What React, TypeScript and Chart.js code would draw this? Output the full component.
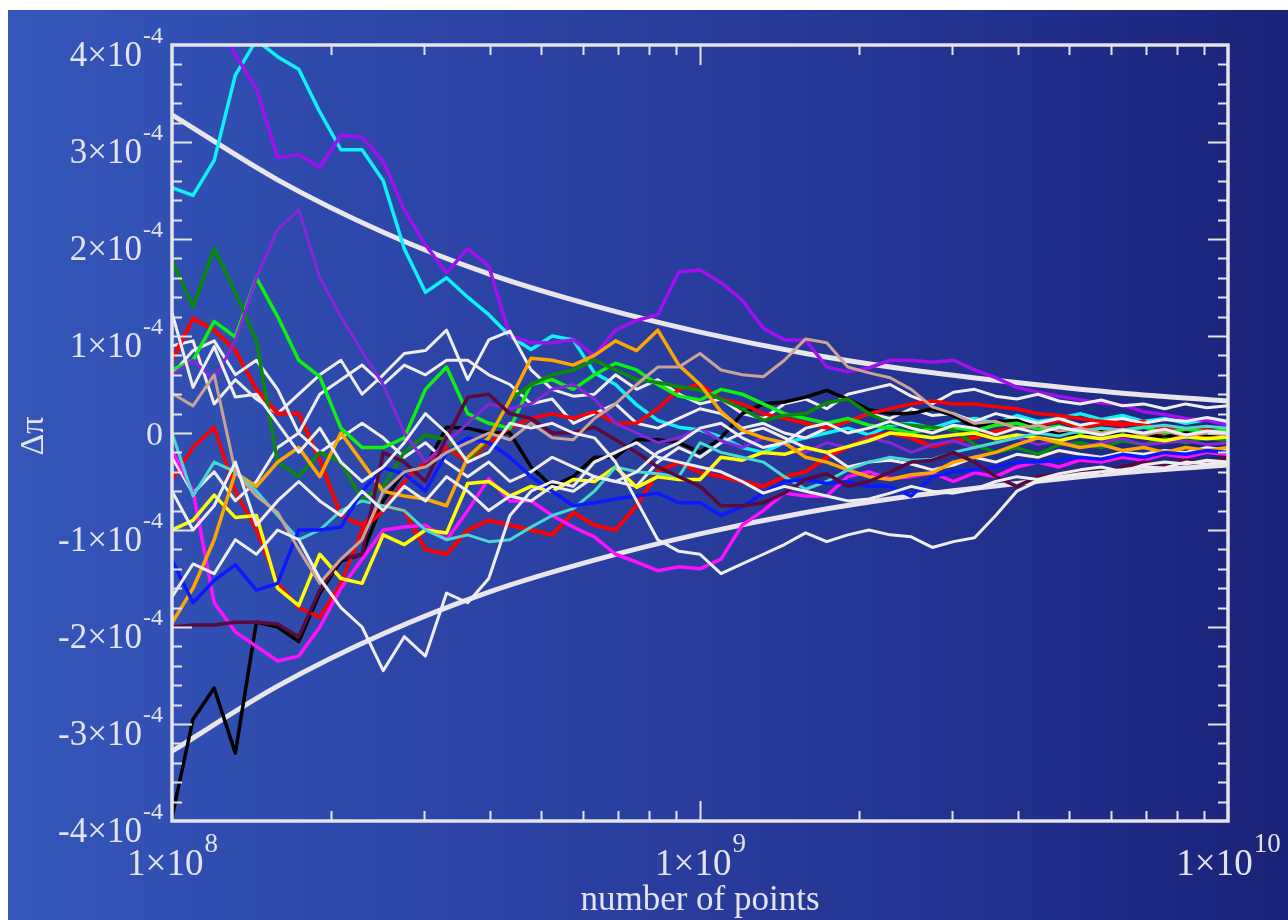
import React, { useEffect, useRef } from "react";
import { Chart, registerables } from "chart.js";
Chart.register(...registerables);

// number of points (x), sampled along the log axis
const N_POINTS = [
  1.0e8, 1.096e8, 1.202e8, 1.318e8, 1.445e8, 1.585e8, 1.738e8, 1.905e8, 2.089e8, 2.291e8,
  2.512e8, 2.754e8, 3.02e8, 3.311e8, 3.631e8, 3.981e8, 4.365e8, 4.786e8, 5.248e8, 5.754e8,
  6.31e8, 6.918e8, 7.586e8, 8.318e8, 9.12e8, 1.0e9, 1.096e9, 1.202e9, 1.318e9, 1.445e9,
  1.585e9, 1.738e9, 1.905e9, 2.089e9, 2.291e9, 2.512e9, 2.754e9, 3.02e9, 3.311e9, 3.631e9,
  3.981e9, 4.365e9, 4.786e9, 5.248e9, 5.754e9, 6.31e9, 6.918e9, 7.586e9, 8.318e9, 9.12e9,
  1.0e10,
];

// Δπ in units of 1e-4
const CYAN = [
  2.53, 2.45, 2.81, 3.69, 4.05, 3.88, 3.75, 3.31, 2.92, 2.92,
  2.6, 1.9, 1.45, 1.6, 1.4, 1.22, 1.0, 0.86, 1.0, 0.96,
  0.62, 0.5, 0.29, 0.13, 0.06, 0.03, -0.04, -0.15, -0.2, -0.1,
  -0.05, 0.0, 0.05, -0.02, 0.08, 0.1, 0.05, 0.12, 0.15, 0.1,
  0.18, 0.12, 0.15, 0.2, 0.14, 0.18, 0.12, 0.15, 0.1, 0.14,
  0.1,
];
const VIOLET = [
  4.6, 4.5, 4.3, 3.9, 3.55, 2.84, 2.87, 2.74, 3.07, 3.05,
  2.8, 2.3, 1.94, 1.65, 1.9, 1.72, 1.0, 0.93, 0.93, 0.96,
  0.8, 1.06, 1.16, 1.22, 1.66, 1.68, 1.55, 1.37, 1.08, 0.96,
  0.96, 0.68, 0.63, 0.67, 0.75, 0.75, 0.73, 0.75, 0.65, 0.57,
  0.47, 0.42, 0.38, 0.34, 0.31, 0.29, 0.22, 0.19, 0.15, 0.13,
  0.08,
];
const BLUEVIOLET = [
  0.6, 0.75, 0.55, 0.95, 1.6, 2.1, 2.3, 1.6, 1.2, 0.84,
  0.5, 0.0, -0.3, -0.1, 0.1, 0.3, 0.25, 0.3, 0.45, 0.5,
  0.35, 0.1, 0.0, -0.1, -0.05, 0.05, -0.08, -0.15, -0.05, -0.12,
  -0.2, -0.1, -0.15, -0.05, -0.1, -0.2, -0.12, -0.08, -0.15, -0.1,
  -0.05, -0.12, -0.08, -0.15, -0.1, -0.06, -0.12, -0.1, -0.08, -0.12,
  -0.1,
];
const DARKGREEN = [
  1.78, 1.3, 1.9, 1.45, 0.95, -0.3, -0.45, -0.2, -0.3, -0.69,
  -0.55, -0.2, -0.02, -0.07, -0.28, -0.07, 0.34, 0.5, 0.6, 0.65,
  0.75, 0.65, 0.55, 0.52, 0.48, 0.44, 0.35, 0.25, 0.13, 0.18,
  0.2, 0.31, 0.35, 0.2, 0.1, 0.08, 0.06, 0.03, -0.12, -0.2,
  -0.15, -0.22, -0.12, -0.1, -0.15, -0.08, -0.12, -0.06, -0.1, -0.05,
  -0.08,
];
const LIME = [
  0.65, 0.75, 1.15, 0.99, 1.6, 1.2, 0.75, 0.58, 0.05, -0.15,
  -0.15, -0.05, 0.45, 0.68, 0.2, 0.1, 0.05, 0.5, 0.55, 0.45,
  0.6, 0.72, 0.65, 0.5, 0.38, 0.34, 0.45, 0.4, 0.3, 0.2,
  0.15, 0.1, 0.15, 0.08, 0.05, 0.0, 0.05, 0.06, 0.02, 0.08,
  0.1, 0.04, 0.07, 0.0, 0.05, 0.02, 0.06, 0.0, 0.04, 0.01,
  0.03,
];
const RED_A = [
  0.75, 1.18, 1.06, 0.85, 0.45, 0.2, 0.2, -0.28, -0.85, -0.95,
  -0.75, -0.8, -1.2, -1.25, -1.0, -0.9, -0.95, -1.0, -1.05, -0.82,
  -0.95, -1.0, -0.75, -0.4, -0.3, -0.41, -0.45, -0.5, -0.55, -0.45,
  -0.4, -0.25, -0.15, -0.04, 0.0, -0.05, -0.14, -0.08, -0.05, 0.02,
  0.05, 0.08, 0.13, 0.05, 0.1, 0.08, 0.12, -0.05, 0.0, -0.04,
  -0.04,
];
const RED_B = [
  -0.48, -0.15, 0.06, -0.6, -1.0, -1.55, -1.8, -1.9, -1.55, -1.0,
  -0.8, -0.5, -0.3, -0.15, -0.3, -0.1, 0.05, 0.15, 0.2, 0.15,
  0.22, 0.1, 0.1, 0.25, 0.45, 0.5, 0.35, 0.3, 0.2, 0.15,
  0.1, 0.05, 0.12, 0.2, 0.25, 0.3, 0.33, 0.3, 0.3, 0.27,
  0.25, 0.2, 0.18, 0.15, 0.12, 0.1, 0.08, 0.05, 0.05, 0.03,
  0.0,
];
const BLACK = [
  -3.96, -2.95, -2.63, -3.3, -1.95, -2.0, -2.15, -1.65, -1.32, -1.25,
  -0.7, -0.4, -0.35, 0.06, 0.05, 0.0, 0.0, -0.35, -0.55, -0.45,
  -0.25, -0.25, -0.07, -0.07, -0.1, -0.2, -0.05, 0.2, 0.3, 0.32,
  0.37, 0.44, 0.35, 0.24, 0.2, 0.2, 0.25, 0.18, 0.06, 0.12,
  0.13, 0.05, 0.0, -0.03, 0.02, -0.02, 0.0, -0.05, 0.02, -0.02,
  0.0,
];
const MAGENTA = [
  -0.18, -0.6, -1.75, -2.05, -2.2, -2.35, -2.3, -2.0, -1.6, -1.3,
  -1.0, -0.97, -0.95, -1.1, -0.8, -0.47, -0.7, -0.7, -0.85, -0.97,
  -1.07, -1.25, -1.33, -1.42, -1.38, -1.4, -1.3, -0.95, -0.8, -0.62,
  -0.65, -0.65, -0.45, -0.4, -0.47, -0.45, -0.41, -0.5, -0.41, -0.45,
  -0.35, -0.3, -0.35, -0.28, -0.3, -0.25, -0.28, -0.22, -0.25, -0.2,
  -0.22,
];
const YELLOW = [
  -1.0, -0.9, -0.64, -0.87, -0.85, -1.6, -1.78, -1.25, -1.5, -1.55,
  -1.05, -1.15, -1.0, -1.03, -0.52, -0.5, -0.65, -0.55, -0.6, -0.48,
  -0.5, -0.35, -0.56, -0.45, -0.48, -0.48, -0.25, -0.28, -0.2, -0.22,
  -0.15, -0.2, -0.14, -0.08, 0.0, -0.02, -0.05, -0.02, 0.0, -0.06,
  -0.02, -0.05, -0.08, -0.03, -0.06, -0.02, -0.05, -0.08, -0.04, -0.06,
  -0.04,
];
const ORANGE = [
  -1.96, -1.6, -1.1, -0.41, -0.55, -0.3, -0.15, -0.45, 0.0, -0.3,
  -0.6, -0.65, -0.68, -0.75, -0.25, -0.05, 0.34, 0.77, 0.75, 0.7,
  0.8, 0.95, 0.85, 1.06, 0.7, 0.5, 0.22, 0.03, -0.05, -0.1,
  -0.25, -0.3, -0.38, -0.45, -0.48, -0.43, -0.41, -0.3, -0.25, -0.2,
  -0.12, -0.05, -0.1, -0.15, -0.12, -0.18, -0.15, -0.2, -0.15, -0.18,
  -0.15,
];
const BLUE = [
  -1.31, -1.75, -1.52, -1.36, -1.62, -1.55, -1.0, -1.0, -0.97, -0.6,
  -0.36, -0.42, -0.6, -0.2, -0.05, -0.1, -0.25, -0.45, -0.6, -0.75,
  -0.72, -0.68, -0.65, -0.62, -0.72, -0.72, -0.85, -0.76, -0.62, -0.5,
  -0.48, -0.52, -0.5, -0.55, -0.55, -0.65, -0.45, -0.4, -0.38, -0.35,
  -0.3, -0.3, -0.28, -0.25, -0.27, -0.22, -0.25, -0.2, -0.22, -0.18,
  -0.2,
];
const MAROON = [
  -2.0, -1.98, -1.98, -1.95, -1.95, -1.97, -2.1, -1.62, -1.3, -1.25,
  -0.2, -0.3, -0.5, -0.05, 0.37, 0.4, 0.2, 0.15, 0.0, 0.0,
  0.06, -0.07, -0.2, -0.35, -0.45, -0.55, -0.75, -0.75, -0.72, -0.62,
  -0.48, -0.42, -0.55, -0.5, -0.4, -0.3, -0.28, -0.2, -0.3, -0.45,
  -0.55, -0.45, -0.42, -0.38, -0.4, -0.35, -0.3, -0.33, -0.28, -0.3,
  -0.25,
];
const TAN = [
  0.41, 0.28, 0.6, -0.4, -0.65, -0.82, -1.2, -1.55, -1.3, -1.1,
  -0.6, -0.4, -0.35, -0.2, -0.1, 0.0, -0.07, 0.1, -0.05, -0.07,
  0.15, 0.3, 0.5, 0.68, 0.68, 0.82, 0.65, 0.6, 0.58, 0.75,
  0.97, 0.93, 0.68, 0.62, 0.57, 0.45, 0.27, 0.2, 0.1, 0.12,
  0.05, 0.08, 0.02, 0.05, 0.0, 0.04, -0.02, 0.02, -0.03, 0.0,
  -0.02,
];
const TURQUOISE = [
  0.0, -0.65, -0.3, -0.4, -0.6, -0.85, -1.1, -1.0, -0.8, -0.7,
  -0.75, -0.8, -1.0, -1.1, -1.05, -1.12, -1.1, -0.97, -0.85, -0.78,
  -0.6, -0.35, -0.4, -0.42, -0.45, -0.1, -0.2, -0.25, -0.3, -0.45,
  -0.58, -0.5, -0.38, -0.3, -0.25, -0.28, -0.27, -0.2, -0.15, -0.1,
  -0.05, 0.0, -0.03, 0.02, 0.05, 0.03, 0.06, 0.08, 0.05, 0.07,
  0.05,
];
const WHITE_A = [
  1.24, 0.47, 0.89, 0.37, 0.4, 0.1, -0.2, 0.05, -0.3, -0.5,
  -0.35, -0.1, 0.2, 0.0, -0.3, -0.2, 0.1, 0.05, 0.1, 0.0,
  -0.05, -0.3, -0.7, -1.1, -1.22, -1.25, -1.45, -1.35, -1.25, -1.15,
  -1.03, -1.12, -1.05, -1.0, -1.05, -1.07, -1.18, -1.12, -1.08, -0.85,
  -0.6, -0.5, -0.45, -0.42, -0.4, -0.38, -0.35, -0.36, -0.3, -0.32,
  -0.3,
];
const WHITE_B = [
  -1.69, -1.35, -1.45, -1.1, -1.25, -1.0, -1.1, -1.5, -1.8, -2.0,
  -2.45, -2.1, -2.3, -1.65, -1.75, -1.5, -0.85, -0.6, -0.5, -0.55,
  -0.3, -0.2, -0.1, -0.25, -0.3, -0.35, -0.4, -0.5, -0.62, -0.55,
  -0.6, -0.65, -0.7, -0.68, -0.62, -0.55, -0.6, -0.62, -0.58, -0.5,
  -0.45, -0.48, -0.42, -0.38, -0.35, -0.4, -0.33, -0.3, -0.32, -0.28,
  -0.3,
];
const WHITE_C = [
  0.9, 0.95, 0.3, 0.55, 0.35, 0.2, 0.4, 0.6, 0.75, 0.4,
  0.6, 0.82, 0.85, 1.06, 0.55, 0.96, 1.05, 0.65, 0.45, 0.38,
  0.4, 0.6, 0.45, 0.55, 0.4, 0.3, 0.35, 0.2, 0.15, 0.3,
  0.35, 0.25, 0.4, 0.45, 0.5, 0.38, 0.3, 0.42, 0.45, 0.38,
  0.35, 0.4, 0.33, 0.3, 0.34, 0.28, 0.3, 0.25, 0.3, 0.26,
  0.28,
];
const WHITE_D = [
  0.6, 0.85, 0.95, 0.6, 0.75, 0.45, 0.0, 0.4, 0.55, 0.7,
  0.5, 0.7, 0.6, 0.75, 0.75, 0.6, 0.5, 0.3, 0.35, 0.1,
  0.2, 0.3, 0.1, 0.05, 0.15, 0.25, 0.2, 0.05, 0.1, 0.0,
  -0.05, 0.05, 0.12, 0.2, 0.15, 0.25, 0.18, 0.2, 0.12, 0.2,
  0.15, 0.1, 0.15, 0.08, 0.12, 0.15, 0.1, 0.14, 0.12, 0.16,
  0.12,
];
const WHITE_E = [
  -0.25, -0.62, -0.4, -0.7, -0.5, -0.15, 0.0, -0.2, -0.05, 0.1,
  -0.05, -0.25, -0.1, -0.3, -0.45, -0.3, -0.5, -0.4, -0.25, -0.35,
  -0.45, -0.5, -0.55, -0.3, -0.15, -0.25, -0.1, 0.0, 0.05, -0.05,
  -0.15, -0.2, -0.35, -0.3, -0.28, -0.32, -0.38, -0.33, -0.25, -0.3,
  -0.22, -0.25, -0.18, -0.22, -0.25, -0.2, -0.22, -0.18, -0.2, -0.15,
  -0.18,
];
const WHITE_F = [
  -0.6, -1.0, -0.75, -0.3, -0.95, -0.7, -0.5, -0.7, -0.85, -0.6,
  -0.8, -0.55, -0.7, -0.45, -0.6, -0.8, -0.65, -0.7, -0.55, -0.6,
  -0.45, -0.5, -0.4, -0.2, -0.1, 0.05, 0.1, -0.05, -0.15, -0.1,
  0.05, 0.1, 0.0, 0.05, 0.12, 0.05, 0.0, 0.08, 0.05, -0.02,
  0.05, 0.0, 0.06, 0.02, -0.02, 0.03, 0.0, 0.04, -0.02, 0.02,
  0.0,
];

// statistical envelope (units of 1e-4)
const ENV_N = [1e8, 1.585e8, 2.512e8, 3.981e8, 6.31e8, 1e9, 1.585e9, 2.512e9, 3.981e9, 6.31e9, 1e10];
const ENV_UPPER = [3.28, 2.61, 2.07, 1.64, 1.31, 1.04, 0.82, 0.65, 0.52, 0.41, 0.33];
const ENV_LOWER = [-3.28, -2.61, -2.07, -1.64, -1.31, -1.04, -0.82, -0.65, -0.52, -0.41, -0.33];

// tick labels
const Y_TICKS = [-4, -3, -2, -1, 0, 1, 2, 3, 4];
const Y_EXP = "-4";
const X_TICKS = [1e8, 1e9, 1e10];
const X_EXPS = ["8", "9", "10"];
const X_TITLE = "number of points";
const Y_TITLE = "Δπ";

const SERIES = [
  { data: WHITE_A, color: "#eeeeee", width: 3 },
  { data: WHITE_B, color: "#eeeeee", width: 3 },
  { data: WHITE_F, color: "#eeeeee", width: 3 },
  { data: TAN, color: "#c9a496", width: 3 },
  { data: MAROON, color: "#5c0a3c", width: 3.5 },
  { data: BLUE, color: "#0a1aff", width: 3.5 },
  { data: TURQUOISE, color: "#48d8d0", width: 3 },
  { data: ORANGE, color: "#ffa500", width: 3.5 },
  { data: YELLOW, color: "#ffff00", width: 3.5 },
  { data: MAGENTA, color: "#ff10ff", width: 3.5 },
  { data: BLUEVIOLET, color: "#8428d8", width: 3 },
  { data: DARKGREEN, color: "#0a8a0a", width: 3.5 },
  { data: LIME, color: "#10f010", width: 3.5 },
  { data: WHITE_E, color: "#eeeeee", width: 3 },
  { data: RED_B, color: "#ff0000", width: 3.5 },
  { data: BLACK, color: "#000000", width: 3.5 },
  { data: WHITE_D, color: "#eeeeee", width: 3 },
  { data: RED_A, color: "#ff0000", width: 4 },
  { data: WHITE_C, color: "#eeeeee", width: 3 },
  { data: VIOLET, color: "#a010f0", width: 3.5 },
  { data: CYAN, color: "#10f0f8", width: 3.5 },
];

const SERIF = '"Liberation Serif", "Times New Roman", "DejaVu Serif", serif';
const TEXT_COLOR = "#e2e4ee";

const decorPlugin = {
  id: "decor",
  afterDraw(chart: any) {
    const { ctx, chartArea: a, scales } = chart;
    const xs = scales.x;
    const ys = scales.y;
    ctx.save();
    ctx.strokeStyle = "#e4e4ea";
    ctx.lineWidth = 2;
    ctx.beginPath();
    // y ticks (left and right, pointing inwards)
    for (let k = -19; k <= 19; k++) {
      const py = Math.round(ys.getPixelForValue(k / 5)) + 0.5;
      const len = k % 5 === 0 ? 20 : 10;
      ctx.moveTo(a.left, py);
      ctx.lineTo(a.left + len, py);
      ctx.moveTo(a.right, py);
      ctx.lineTo(a.right - len, py);
    }
    // x ticks (bottom and top)
    for (const dec of [1e8, 1e9]) {
      for (let m = 1; m <= 9; m++) {
        if (dec === 1e8 && m === 1) continue;
        const px = Math.round(xs.getPixelForValue(m * dec)) + 0.5;
        const len = m === 1 ? 20 : 10;
        ctx.moveTo(px, a.bottom);
        ctx.lineTo(px, a.bottom - len);
        ctx.moveTo(px, a.top);
        ctx.lineTo(px, a.top + len);
      }
    }
    ctx.stroke();
    // frame
    ctx.lineWidth = 3.5;
    ctx.strokeRect(a.left, a.top, a.right - a.left, a.bottom - a.top);

    // y labels
    ctx.fillStyle = TEXT_COLOR;
    for (const v of Y_TICKS) {
      const py = ys.getPixelForValue(v);
      if (v === 0) {
        ctx.font = `34px ${SERIF}`;
        ctx.textAlign = "right";
        ctx.textBaseline = "alphabetic";
        ctx.fillText("0", a.left - 9, py + 12);
        continue;
      }
      ctx.font = `24px ${SERIF}`;
      const supW = ctx.measureText(Y_EXP).width;
      const supRight = a.left - 9;
      ctx.textAlign = "left";
      ctx.textBaseline = "alphabetic";
      ctx.fillText(Y_EXP, supRight - supW, py - 2);
      ctx.font = `35px ${SERIF}`;
      ctx.textAlign = "right";
      ctx.fillText(`${v}×10`, supRight - supW - 1, py + 21);
    }
    // x labels
    X_TICKS.forEach((v, i) => {
      const px = xs.getPixelForValue(v);
      ctx.font = `37px ${SERIF}`;
      const main = "1×10";
      const mw = ctx.measureText(main).width;
      ctx.font = `27px ${SERIF}`;
      const sw = ctx.measureText(X_EXPS[i]).width;
      const left = px - (mw + sw) / 2;
      ctx.textAlign = "left";
      ctx.textBaseline = "alphabetic";
      ctx.fillText(X_EXPS[i], left + mw + 1, a.bottom + 31);
      ctx.font = `37px ${SERIF}`;
      ctx.fillText(main, left, a.bottom + 54);
    });
    // axis titles
    ctx.font = `35px ${SERIF}`;
    ctx.textAlign = "center";
    ctx.fillText(X_TITLE, (a.left + a.right) / 2, a.bottom + 89);
    ctx.save();
    ctx.translate(26, (a.top + a.bottom) / 2 + 3);
    ctx.rotate(-Math.PI / 2);
    ctx.textBaseline = "middle";
    ctx.font = `34px ${SERIF}`;
    ctx.fillText(Y_TITLE, 0, 0);
    ctx.restore();
    ctx.restore();
  },
};

export default function App() {
  const ref = useRef<HTMLCanvasElement | null>(null);
  useEffect(() => {
    if (!ref.current) return;
    const datasets: any[] = SERIES.map((s) => ({
      data: N_POINTS.map((n, i) => ({ x: n, y: s.data[i] })),
      borderColor: s.color,
      borderWidth: s.width,
      borderJoinStyle: "round",
      pointRadius: 0,
      tension: 0,
      fill: false,
    }));
    for (const env of [ENV_UPPER, ENV_LOWER]) {
      datasets.push({
        data: ENV_N.map((n, i) => ({ x: n, y: env[i] })),
        borderColor: "#e8e6ea",
        borderWidth: 5,
        pointRadius: 0,
        cubicInterpolationMode: "monotone",
        fill: false,
      });
    }
    const chart = new Chart(ref.current, {
      type: "line",
      data: { datasets },
      options: {
        animation: false,
        responsive: false,
        maintainAspectRatio: false,
        layout: { padding: { left: 164, right: 60, top: 35, bottom: 99 } },
        plugins: { legend: { display: false }, tooltip: { enabled: false } },
        scales: {
          x: { type: "logarithmic", min: 1e8, max: 1e10, display: false },
          y: { type: "linear", min: -4, max: 4, display: false },
        },
      },
      plugins: [decorPlugin],
    });
    return () => chart.destroy();
  }, []);
  return (
    <div
      style={{
        position: "absolute",
        left: 8,
        top: 10,
        width: 1280,
        height: 910,
        background:
          "linear-gradient(to right, #3557ba 0%, #2e49ac 25%, #283c9c 55%, #212d8a 82%, #1b2378 100%)",
      }}
    >
      <canvas ref={ref} width={1280} height={910} style={{ display: "block" }} />
    </div>
  );
}
